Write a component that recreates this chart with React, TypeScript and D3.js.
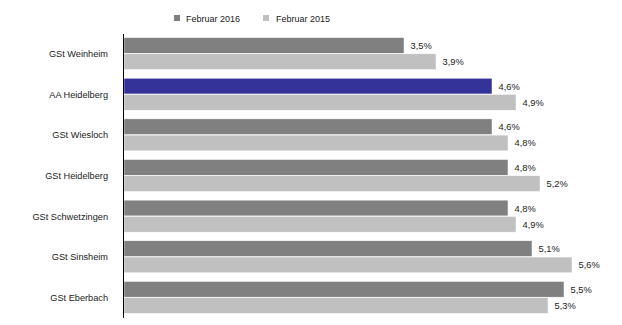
import React from "react";
import * as d3 from "d3";

const categories = ["GSt Weinheim", "AA Heidelberg", "GSt Wiesloch", "GSt Heidelberg", "GSt Schwetzingen", "GSt Sinsheim", "GSt Eberbach"];
const values2016 = [3.5, 4.6, 4.6, 4.8, 4.8, 5.1, 5.5];
const values2015 = [3.9, 4.9, 4.8, 5.2, 4.9, 5.6, 5.3];
const seriesNames = ["Februar 2016", "Februar 2015"];
const highlight = "AA Heidelberg";

const W = 622, H = 325;
const FONT = "'Liberation Sans', Arial, sans-serif";

export default function App() {
  const x = d3.scaleLinear().domain([0, 1]).range([124, 204]);
  const y = d3.scaleBand<string>().domain(categories).range([33.5, 318]).paddingInner(0.2).paddingOuter(0.1);
  const sub = d3.scaleBand<number>().domain([0, 1]).range([0, y.bandwidth()]).padding(0);
  const fmt = (v: number) => v.toFixed(1).replace(".", ",") + "%";
  const colors = ["#808080", "#c0c0c0"];

  return (
    <svg width={W} height={H} style={{ position: "absolute", left: 0, top: 0, background: "#fff" }} fontFamily={FONT}>
      {/* legend */}
      <rect x={174} y={15} width={6} height={6} fill={colors[0]} />
      <text x={186} y={21.5} fontSize={9} fill="#222">{seriesNames[0]}</text>
      <rect x={263} y={15} width={6} height={6} fill={colors[1]} />
      <text x={276} y={21.5} fontSize={9} fill="#222">{seriesNames[1]}</text>

      {categories.map((c, i) => {
        const y0 = y(c)!;
        const vals = [values2016[i], values2015[i]];
        return (
          <g key={c}>
            <text x={108} y={y0 + y.bandwidth() / 2} dy="0.35em" textAnchor="end" fontSize={9.2} fill="#222">{c}</text>
            {vals.map((v, j) => {
              const fill = j === 0 && c === highlight ? "#333399" : colors[j];
              const by = y0 + sub(j)!;
              return (
                <g key={j}>
                  <rect x={x(0)} y={by} width={x(v) - x(0)} height={sub.bandwidth() - 0.5} fill={fill} stroke="#ffffff" strokeWidth={0.5} />
                  <text x={x(v) + 6.5} y={by + sub.bandwidth() / 2} dy="0.35em" fontSize={9.3} fill="#222">{fmt(v)}</text>
                </g>
              );
            })}
          </g>
        );
      })}
      <line x1={123.5} x2={123.5} y1={34} y2={318} stroke="#000" strokeWidth={1} />
    </svg>
  );
}
